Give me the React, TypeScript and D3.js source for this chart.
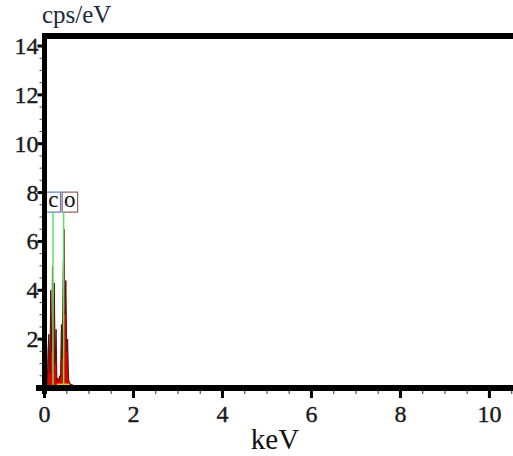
import { useRef, useEffect } from "react";
import * as d3 from "d3";

// spectrum (keV, cps/eV)
const energies = [0.06, 0.08, 0.1, 0.12, 0.14, 0.16, 0.18, 0.2, 0.22, 0.24, 0.26, 0.28, 0.3, 0.32, 0.34, 0.36, 0.38, 0.4, 0.42, 0.44, 0.46, 0.48, 0.5, 0.52, 0.54, 0.56, 0.6, 0.66, 0.72, 0.8];
const counts = [0, 1.6, 2.2, 0.6, 4.0, 1.5, 5.0, 2.0, 4.3, 1.0, 2.4, 0.3, 0.4, 0.3, 0.5, 0.4, 2.6, 1.2, 4.8, 6.5, 3.0, 4.4, 1.5, 2.0, 0.4, 0.2, 0.15, 0.1, 0.05, 0];

const elements = ["c", "o"];
const elementEnergy = [0.19, 0.43];
const labelEnergy = [0.2, 0.57];
const markerHeight = [7.2, 7.2];
const boxColor = ["#5b7fc0", "#8a6060"];

const xTicks = [0, 2, 4, 6, 8, 10];
const yTicks = [2, 4, 6, 8, 10, 12, 14];

export default function App() {
  const ref = useRef<SVGSVGElement>(null);

  useEffect(() => {
    const svg = d3.select(ref.current);
    svg.selectAll("*").remove();
    const width = 513;
    const height = 456;
    const left = 44.5;
    const bottom = 388;

    const x = d3.scaleLinear().domain([0, 10.53]).range([left, width]);
    const y = d3.scaleLinear().domain([0, 14]).range([bottom, 46]);
    const font = "Liberation Serif, DejaVu Serif, serif";

    svg.attr("width", width).attr("height", height);

    // spectrum
    const pts = energies.map((e, i) => [e, counts[i]] as [number, number]);
    const area = d3.area<[number, number]>().x((d) => x(d[0])).y0(y(0)).y1((d) => y(d[1]));
    const line = d3.line<[number, number]>().x((d) => x(d[0])).y((d) => y(d[1]));
    svg.append("path").attr("d", area(pts)).attr("fill", "#e00000");
    svg.append("path").attr("d", line(pts)).attr("fill", "none").attr("stroke", "#5a0a0a").attr("stroke-width", 1);
    svg.append("line")
      .attr("x1", x(0.28)).attr("x2", x(0.56))
      .attr("y1", y(0.15)).attr("y2", y(0.15))
      .attr("stroke", "#e8d000").attr("stroke-width", 1.5);

    // element markers
    elements.forEach((el, i) => {
      const xe = x(elementEnergy[i]);
      svg.append("line")
        .attr("x1", xe).attr("x2", xe)
        .attr("y1", y(0)).attr("y2", y(markerHeight[i]))
        .attr("stroke", "#5fe35f").attr("stroke-width", 1.5);
      const t = svg.append("text")
        .attr("x", x(labelEnergy[i])).attr("y", y(markerHeight[i]) - 5)
        .attr("text-anchor", "middle")
        .attr("font-family", font).attr("font-size", 23)
        .attr("fill", "#111")
        .text(el);
      const bb = (t.node() as SVGTextElement).getBBox();
      svg.insert("rect", "text")
        .attr("x", bb.x - 2).attr("y", bb.y + 5)
        .attr("width", bb.width + 4).attr("height", bb.height - 5)
        .attr("fill", "white").attr("fill-opacity", 0.6)
        .attr("stroke", boxColor[i]).attr("stroke-width", 1.2);
    });

    // minor ticks
    const xMinor = d3.range(0.5, 10.6, 0.5).filter((v) => v % 2 !== 0);
    svg.selectAll(".xminor").data(xMinor).enter().append("line")
      .attr("x1", (d) => x(d)).attr("x2", (d) => x(d))
      .attr("y1", bottom).attr("y2", bottom + 6)
      .attr("stroke", "#3a5a5a").attr("stroke-width", 1.2);
    const yMinor = d3.range(0.5, 14.4, 0.5).filter((v) => v % 2 !== 0);
    svg.selectAll(".yminor").data(yMinor).enter().append("line")
      .attr("x1", left - 5).attr("x2", left)
      .attr("y1", (d) => y(d)).attr("y2", (d) => y(d))
      .attr("stroke", "#3a5a5a").attr("stroke-width", 1);

    // frame
    svg.append("line").attr("x1", 36).attr("x2", width).attr("y1", bottom).attr("y2", bottom)
      .attr("stroke", "#000").attr("stroke-width", 6);
    svg.append("line").attr("x1", left).attr("x2", left).attr("y1", 33).attr("y2", bottom + 6)
      .attr("stroke", "#000").attr("stroke-width", 5);
    svg.append("line").attr("x1", left - 2).attr("x2", width).attr("y1", 36).attr("y2", 36)
      .attr("stroke", "#000").attr("stroke-width", 6);

    // major ticks & labels
    xTicks.forEach((v) => {
      svg.append("line").attr("x1", x(v)).attr("x2", x(v)).attr("y1", bottom).attr("y2", bottom + 10)
        .attr("stroke", "#000").attr("stroke-width", 3);
      svg.append("text").attr("x", x(v)).attr("y", 422).attr("text-anchor", "middle")
        .attr("font-family", font).attr("font-size", 24).attr("fill", "#1a1a1a")
        .attr("stroke", "#1a1a1a").attr("stroke-width", 0.4).text(v);
    });
    yTicks.forEach((v) => {
      svg.append("line").attr("x1", left - 7).attr("x2", left).attr("y1", y(v)).attr("y2", y(v))
        .attr("stroke", "#000").attr("stroke-width", 3);
      svg.append("text").attr("x", left - 6).attr("y", y(v) + 8).attr("text-anchor", "end")
        .attr("font-family", font).attr("font-size", 24).attr("fill", "#1a1a1a")
        .attr("stroke", "#1a1a1a").attr("stroke-width", 0.4).text(v);
    });

    svg.append("text").attr("x", 42).attr("y", 23)
      .attr("font-family", font).attr("font-size", 25).attr("fill", "#1a2a3a").text("cps/eV");
    svg.append("text").attr("x", 275).attr("y", 449).attr("text-anchor", "middle")
      .attr("font-family", font).attr("font-size", 29).attr("fill", "#111").text("keV");
  }, []);

  return <svg ref={ref} style={{ position: "absolute", left: 0, top: 0, background: "white" }}></svg>;
}
